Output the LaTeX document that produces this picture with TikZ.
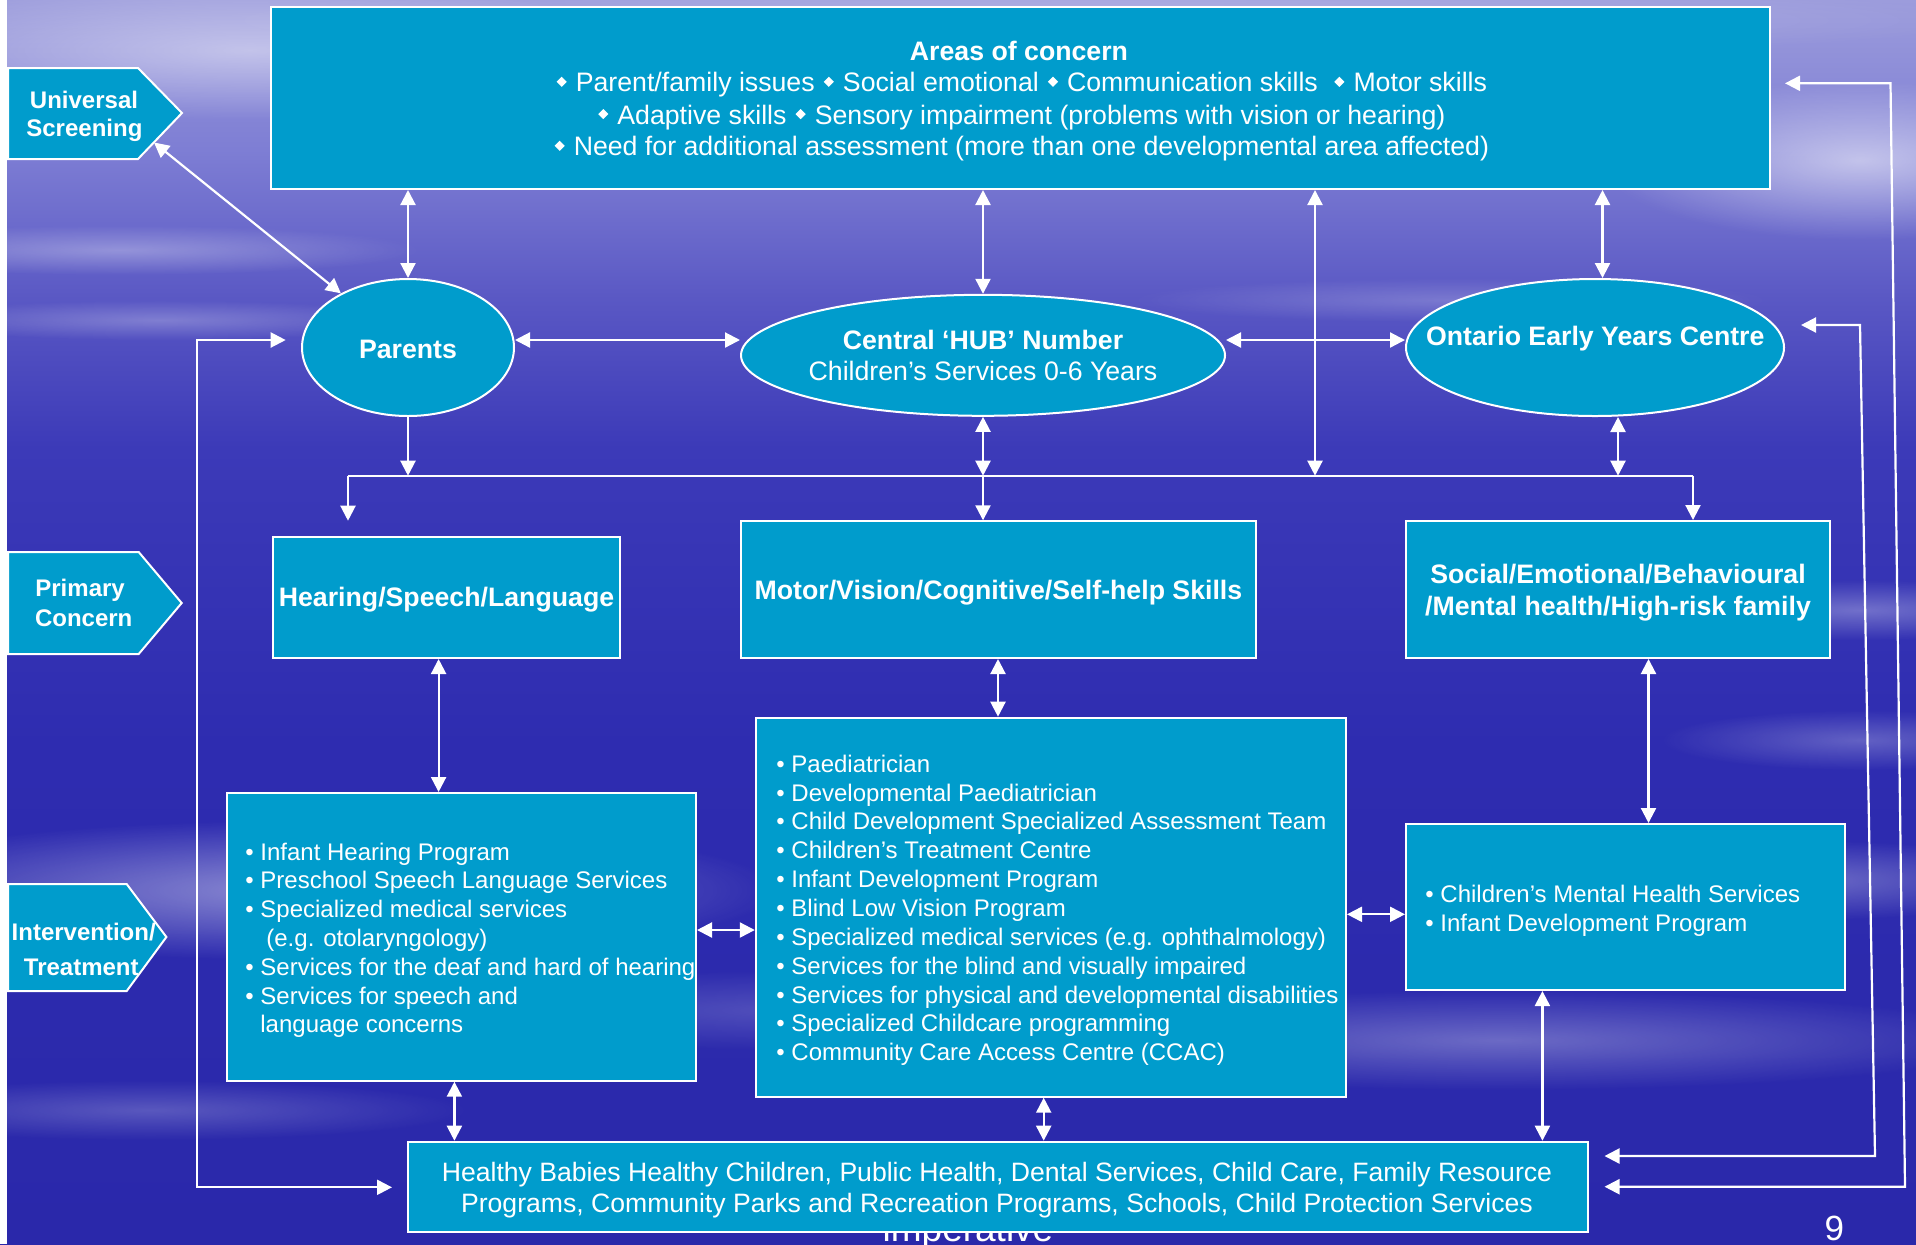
\documentclass[tikz,border=0pt]{standalone}
\usepackage{fontspec}
\setmainfont{Liberation Sans}
\usetikzlibrary{arrows.meta,fadings,fit,shapes.geometric}
\definecolor{boxc}{RGB}{0,156,204}
\definecolor{bgA}{RGB}{42,40,170}
\definecolor{bgB}{RGB}{46,44,176}
\definecolor{bgC}{RGB}{60,58,184}
\definecolor{bgD}{RGB}{90,88,196}
\definecolor{bgE}{RGB}{126,126,212}
\definecolor{bgF}{RGB}{156,156,220}
\pgfdeclareverticalshading{bgsh}{100bp}{color(0bp)=(bgA); color(25bp)=(bgA); color(45bp)=(bgB); color(57bp)=(bgC); color(63bp)=(bgD); color(69bp)=(bgE); color(75bp)=(bgF); color(100bp)=(bgF)}
\tikzfading[name=softspot, inner color=transparent!0, outer color=transparent!100]
\newcommand\fMain{\fontsize{13.35}{16}\selectfont}
\newcommand\fList{\fontsize{12}{14.4}\selectfont}
\newcommand\fSide{\fontsize{12}{14}\selectfont}
\newcommand\fBot{\fontsize{13.3}{15.5}\selectfont}
\newcommand\dmd{\hspace{0.06em}\raisebox{0.18em}{\rotatebox{45}{\rule{0.27em}{0.27em}}}\hspace{0.06em}}
\tikzset{
  box/.style={draw=white, line width=1pt, fill=boxc, inner sep=0pt},
  conn/.style={draw=white, line width=1.1pt},
  lbl/.style={text=white, inner sep=0pt, anchor=base, font=\fMain},
  lst/.style={text=white, inner sep=0pt, anchor=base west, font=\fList},
  side/.style={text=white, inner sep=0pt, anchor=base, font=\fSide\bfseries},
  streak/.style={fill=white, path fading=softspot}
}
\begin{document}
\begin{tikzpicture}[x=0.5pt,y=-0.5pt,>={Triangle[length=7.5pt,width=7.5pt]}]
\useasboundingbox (0,0) rectangle (1916,1244);
% background
\shade[shading=bgsh] (0,0) rectangle (1916,1244);
\fill[streak, fill opacity=0.45] (250,50) ellipse [x radius=420, y radius=70];
\fill[streak, fill opacity=0.25] (1100,20) ellipse [x radius=900, y radius=40];
\fill[streak, fill opacity=0.55] (1860,160) ellipse [x radius=260, y radius=80];
\fill[streak, fill opacity=0.30] (120,250) ellipse [x radius=300, y radius=25];
\fill[streak, fill opacity=0.25] (160,320) ellipse [x radius=260, y radius=20];
\fill[streak, fill opacity=0.20] (1450,300) ellipse [x radius=320, y radius=22];
\fill[streak, fill opacity=0.30] (1860,610) ellipse [x radius=220, y radius=30];
\fill[streak, fill opacity=0.25] (1860,740) ellipse [x radius=200, y radius=30];
\fill[streak, fill opacity=0.45] (300,890) ellipse [x radius=480, y radius=70];
\fill[streak, fill opacity=0.30] (1500,1040) ellipse [x radius=520, y radius=50];
\fill[streak, fill opacity=0.30] (1800,880) ellipse [x radius=260, y radius=40];
\fill[streak, fill opacity=0.22] (150,1110) ellipse [x radius=320, y radius=30];
\fill[streak, fill opacity=0.18] (800,1010) ellipse [x radius=420, y radius=40];
\fill[white] (0,0) rectangle (7,1244);
% stray text behind the bottom box
\node[text=white, inner sep=0pt, anchor=base, font=\fontsize{18.5}{20}\selectfont] (imp) at (968,1241) {imperative};
% side labels
\path[box] (8,68) -- (138,68) -- (182,113) -- (138,159) -- (8,159) -- cycle;
\path[box] (8,552) -- (138.7,552) -- (181.7,603) -- (138.7,654) -- (8,654) -- cycle;
\path[box] (8,884) -- (126.7,884) -- (166.4,937) -- (126.7,991) -- (8,991) -- cycle;
\coordinate (uspt) at (154,142.5);
\node[side] (us1) at (84,108.3) {Universal};
\node[side] (us2) at (84.4,136.7) {Screening};
\node[side] (pc1) at (80.1,596.7) {Primary};
\node[side] (pc2) at (83.7,626) {Concern};
\node[side] (it1) at (83.7,940.7) {Intervention/};
\node[side] (it2) at (81.3,975) {Treatment};
% boxes
\node[box, fit={(271,7) (1770,189)}] (top) {};
\node[box, ellipse, minimum width=106pt, minimum height=68.5pt] (parents) at (408,347.5) {};
\node[box, ellipse, minimum width=242pt, minimum height=60.5pt] (hub) at (983,355.3) {};
\node[box, ellipse, minimum width=189pt, minimum height=68.5pt] (oeyc) at (1595,347.5) {};
\node[box, fit={(272.6,536.7) (620.4,658)}] (hear) {};
\node[box, fit={(741,521.3) (1255.8,658)}] (motor) {};
\node[box, fit={(1406,521) (1830.4,658)}] (social) {};
\node[box, fit={(226.7,793) (696,1080.7)}] (hlist) {};
\node[box, fit={(755.8,717.7) (1346,1096.7)}] (mlist) {};
\node[box, fit={(1406,824) (1845.3,990)}] (rlist) {};
\node[box, fit={(408,1141.7) (1588,1232.3)}] (bottom) {};
% texts
\node[lbl, font=\fMain\bfseries] (t0) at (1019,60) {Areas of concern};
\node[lbl] (t1) at (1021,91.7) {\dmd\ Parent/family issues \dmd\ Social emotional \dmd\ Communication skills \ \dmd\ Motor skills};
\node[lbl] (t2) at (1021,124) {\dmd\ Adaptive skills \dmd\ Sensory impairment (problems with vision or hearing)};
\node[lbl] (t3) at (1021,155.7) {\dmd\ Need for additional assessment (more than one developmental area affected)};
\node[lbl, font=\fMain\bfseries] (pt) at (408,358.3) {Parents};
\node[lbl, font=\fMain\bfseries] (ht1) at (983,349.3) {Central ‘HUB’ Number};
\node[lbl] (ht2) at (983,380.7) {Children’s Services 0-6 Years};
\node[lbl, font=\fMain\bfseries] (ot) at (1595.3,345) {Ontario Early Years Centre};
\node[lbl, font=\fMain\bfseries] (heart) at (446.5,606.7) {Hearing/Speech/Language};
\node[lbl, font=\fMain\bfseries] (motort) at (998.4,599.3) {Motor/Vision/Cognitive/Self-help Skills};
\node[lbl, font=\fMain\bfseries] (soct1) at (1618,583.3) {Social/Emotional/Behavioural};
\node[lbl, font=\fMain\bfseries] (soct2) at (1618,615.7) {/Mental health/High-risk family};
\node[lst] (h1) at (245,860) {•\ Infant Hearing Program};
\node[lst] (h2) at (245,888.8) {•\ Preschool Speech Language Services};
\node[lst] (h3) at (245,917.6) {•\ Specialized medical services};
\node[lst] (h4) at (266,946.4) {(e.g. otolaryngology)};
\node[lst] (h5) at (245,975.2) {•\ Services for the deaf and hard of hearing};
\node[lst] (h6) at (245,1004) {•\ Services for speech and};
\node[lst] (h7) at (260,1032.8) {language concerns};
\foreach \t [count=\i] in {Paediatrician, Developmental Paediatrician, Child Development Specialized Assessment Team, Children’s Treatment Centre, Infant Development Program, Blind Low Vision Program, Specialized medical services (e.g. ophthalmology), Services for the blind and visually impaired, Services for physical and developmental disabilities, Specialized Childcare programming, Community Care Access Centre (CCAC)}
  \node[lst] (m\i) at (776,{772.3+(\i-1)*28.84}) {•\ \t};
\node[lst] (r1) at (1425,902) {•\ Children’s Mental Health Services};
\node[lst] (r2) at (1425,931) {•\ Infant Development Program};
\node[lbl, font=\fBot] (b1) at (997,1181.7) {Healthy Babies Healthy Children, Public Health, Dental Services, Child Care, Family Resource};
\node[lbl, font=\fBot] (b2) at (997,1212.7) {Programs, Community Parks and Recreation Programs, Schools, Child Protection Services};
\node[text=white, inner sep=0pt, anchor=base, font=\fontsize{17.5}{20}\selectfont] (pg) at (1834.4,1240) {9};
% helper coordinates
\coordinate (yA) at (0,340);
\coordinate (bus) at (0,475.7);
\coordinate (busL) at (348,475.7);
\coordinate (busR) at (1693,475.7);
\coordinate (hearTip) at (348,520.7);
\coordinate (xL) at (1315,0);
\coordinate (xO) at (1602.5,0);
\coordinate (xO2) at (1618,0);
\coordinate (xH) at (438.6,0);
\coordinate (xM) at (998,0);
\coordinate (xS) at (1648.5,0);
\coordinate (yHM) at (0,930);
\coordinate (yMR) at (0,914.3);
\coordinate (xB1) at (454.4,0);
\coordinate (xB2) at (1043.7,0);
\coordinate (xB3) at (1542.4,0);
\coordinate (lA) at (285.7,340);
\coordinate (lB) at (197.3,340);
\coordinate (lC) at (197.3,1187.3);
\coordinate (lD) at (392,1187.3);
\coordinate (rA) at (1785,83.3);
\coordinate (rB) at (1890.5,83.3);
\coordinate (rC) at (1905,1186.7);
\coordinate (rD) at (1604.5,1186.7);
\coordinate (iA) at (1801,325);
\coordinate (iB) at (1860,325);
\coordinate (iC) at (1875,1156);
\coordinate (iD) at (1604.5,1156);
% connectors
\draw[conn,<->] (top.south -| parents) -- (parents.north);
\draw[conn,<->] (top.south -| hub) -- (hub.north);
\draw[conn,<->] (top.south -| xL) -- (bus -| xL);
\draw[conn,<->] (top.south -| xO) -- ([xshift=3.75pt]oeyc.north);
\draw[conn,<->] (uspt) -- (parents);
\draw[conn,<->] (parents.east |- yA) -- (hub.west |- yA);
\draw[conn,<->] (hub.east |- yA) -- (oeyc.west |- yA);
\draw[conn,->] (parents.south) -- (parents.south |- bus);
\draw[conn] (busL) -- (busR);
\draw[conn,->] (busL) -- (hearTip);
\draw[conn,->] (busR) -- (social.north -| busR);
\draw[conn,<->] (hub.south) -- (hub.south |- bus);
\draw[conn,->] (hub.south |- bus) -- (motor.north -| hub.south);
\draw[conn,<->] ([xshift=11.5pt]oeyc.south) -- (bus -| xO2);
\draw[conn,<->] (hear.south -| xH) -- (hlist.north -| xH);
\draw[conn,<->] (motor.south -| xM) -- (mlist.north -| xM);
\draw[conn,<->] (social.south -| xS) -- (rlist.north -| xS);
\draw[conn,<->] (hlist.east |- yHM) -- (mlist.west |- yHM);
\draw[conn,<->] (mlist.east |- yMR) -- (rlist.west |- yMR);
\draw[conn,<->] (hlist.south -| xB1) -- (bottom.north -| xB1);
\draw[conn,<->] (mlist.south -| xB2) -- (bottom.north -| xB2);
\draw[conn,<->] (rlist.south -| xB3) -- (bottom.north -| xB3);
\draw[conn,<->] (lA) -- (lB) -- (lC) -- (lD);
\draw[conn,<->] (rA) -- (rB) -- (rC) -- (rD);
\draw[conn,<->] (iA) -- (iB) -- (iC) -- (iD);
\end{tikzpicture}
\end{document}
